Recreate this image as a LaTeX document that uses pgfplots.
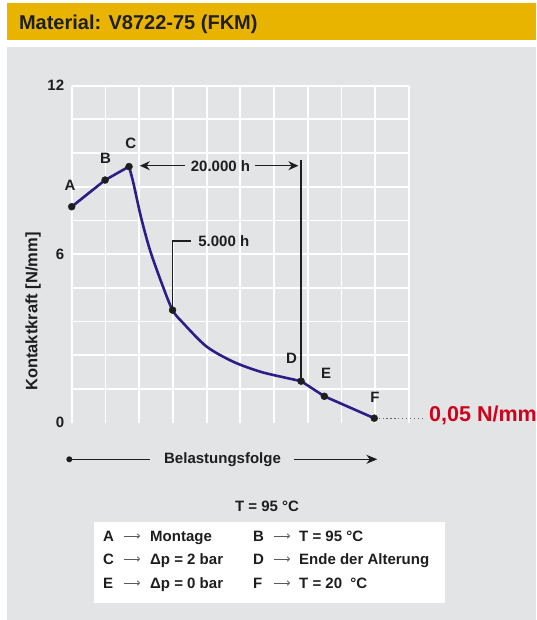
\documentclass[border=0pt]{standalone}
\usepackage{pgfplots}
\pgfplotsset{compat=1.18}
\usepackage{fontspec}
\setmainfont{Liberation Sans}
\usetikzlibrary{arrows.meta}

\definecolor{band}{RGB}{233,180,0}
\definecolor{panel}{RGB}{227,228,230}
\definecolor{curve}{RGB}{44,30,135}
\definecolor{ink}{RGB}{30,30,30}
\definecolor{warn}{RGB}{208,2,27}

\newcommand{\lbl}{\fontsize{15}{18}\selectfont\bfseries}

\begin{document}
\begin{tikzpicture}
\useasboundingbox (0,0) rectangle (536pt,620pt);
\begin{scope}
\clip (0,0) rectangle (536pt,620pt);
\fill[white] (0,0) rectangle (536pt,620pt);
\fill[band] (7pt,579.7pt) rectangle (536pt,616.6pt);
\fill[panel] (7pt,0pt) rectangle (536pt,573pt);
\node[anchor=base west, text=ink, inner sep=0pt, font=\fontsize{20}{24}\selectfont\bfseries]
  at (18.8pt,590pt) {Material: V8722-75 (FKM)};

\begin{axis}[
    at={(71.7pt,197.3pt)}, anchor=south west,
    scale only axis, width=337.3pt, height=337pt,
    xmin=0, xmax=10, ymin=0, ymax=12,
    axis line style={draw=none},
    major tick style={draw=none},
    xtick={0,1,...,10}, xticklabels={},
    ytick={1.2,2.4,3.6,4.8,6,7.2,8.4,9.6,10.8,12}, yticklabels={},
    extra y ticks={0,6,12},
    extra y tick style={grid=none},
    extra y tick labels={0,6,12},
    grid=major,
    major grid style={white, line width=1.8pt},
    yticklabel style={font=\lbl, text=ink, xshift=-4pt},
    /pgf/number format/assume math mode=true,
    ylabel={Kontaktkraft [N/mm]},
    every axis y label/.style={at={(axis description cs:0,0.33)}, xshift=-38.7pt,
      rotate=90, anchor=center, font=\fontsize{16.5}{19}\selectfont\bfseries, text=ink},
    clip=false,
  ]
  % annotations
  \draw[ink, line width=1.2pt] (axis cs:2.99,4.01) -- (axis cs:2.99,6.47) -- (axis cs:3.54,6.47);
  \node[anchor=west, font=\lbl, text=ink, inner sep=0pt] at (axis cs:3.75,6.47) {5.000 h};
  \draw[ink, line width=1.2pt] (axis cs:6.80,1.48) -- (axis cs:6.80,9.36);
  \draw[ink, line width=1.2pt, -{Stealth[length=10pt,width=9pt]}] (axis cs:3.36,9.15) -- (axis cs:2.02,9.15);
  \draw[ink, line width=1.2pt, -{Stealth[length=10pt,width=9pt]}] (axis cs:5.43,9.15) -- (axis cs:6.72,9.15);
  \node[font=\lbl, text=ink, inner sep=0pt] at (axis cs:4.41,9.15) {20.000 h};
  \draw[black!60, line width=1.3pt, dash pattern=on 1.3pt off 2.6pt] (axis cs:9.1,0.16) -- (axis cs:10.42,0.16);

  \addplot[curve, line width=2.6pt, sharp plot] coordinates {(0,7.69) (0.99,8.64) (1.70,9.12)};
  \addplot[curve, line width=2.6pt, smooth] coordinates {
    (1.70,9.12) (1.83,8.53) (2.05,7.34) (2.32,6.15) (2.67,4.96) (2.99,4.01)
    (3.31,3.54) (4.0,2.71) (4.79,2.17) (5.58,1.82) (6.27,1.62) (6.80,1.48)};
  \addplot[curve, line width=2.6pt, sharp plot] coordinates {(6.80,1.48) (7.49,0.94) (8.97,0.16)};
  \addplot[only marks, mark=*, mark size=3.5pt, mark options={fill=ink, draw=ink}] coordinates {
    (0,7.69) (0.99,8.64) (1.70,9.12) (2.99,4.01) (6.80,1.48) (7.49,0.94) (8.97,0.16)};

  \node[font=\lbl, text=ink] at (axis cs:-0.05,8.44) {A};
  \node[font=\lbl, text=ink] at (axis cs:1.0,9.42) {B};
  \node[font=\lbl, text=ink] at (axis cs:1.75,9.95) {C};
  \node[font=\lbl, text=ink] at (axis cs:6.52,2.28) {D};
  \node[font=\lbl, text=ink] at (axis cs:7.54,1.76) {E};
  \node[font=\lbl, text=ink] at (axis cs:8.99,0.89) {F};
\end{axis}

\node[anchor=base west, text=warn, inner sep=0pt, font=\fontsize{21.5}{25}\selectfont\bfseries]
  at (429pt,198.3pt) {0,05 N/mm};

% load sequence arrow
\fill[ink] (69.3pt,160.7pt) circle (3pt);
\draw[ink, line width=1.3pt] (69.3pt,160.7pt) -- (150pt,160.7pt);
\node[font=\lbl, text=ink] at (222.5pt,160.7pt) {Belastungsfolge};
\draw[ink, line width=1.3pt, -{Stealth[length=11pt,width=9pt]}] (294pt,160.7pt) -- (377.3pt,160.7pt);

\node[font=\lbl, text=ink] at (267pt,113.3pt) {T = 95 °C};

% legend box
\fill[white] (94pt,17pt) rectangle (445pt,98pt);
\foreach \y/\la/\ta/\lb/\tb in {84/A/Montage/B/T = 95 °C,
                               61/C/Δp = 2 bar/D/Ende der Alterung,
                               37/E/Δp = 0 bar/F/T = 20\ \ °C}{
  \node[anchor=base west, font=\lbl, text=ink, inner sep=0pt] at (103pt,\y pt-5.4pt) {\la};
  \draw[gray!70!black, line width=0.8pt, -{To[length=3pt,width=5pt]}] (124pt,\y pt) -- (140pt,\y pt);
  \node[anchor=base west, font=\lbl, text=ink, inner sep=0pt] at (150pt,\y pt-5.4pt) {\ta};
  \node[anchor=base west, font=\lbl, text=ink, inner sep=0pt] at (253pt,\y pt-5.4pt) {\lb};
  \draw[gray!70!black, line width=0.8pt, -{To[length=3pt,width=5pt]}] (274pt,\y pt) -- (290pt,\y pt);
  \node[anchor=base west, font=\lbl, text=ink, inner sep=0pt] at (299pt,\y pt-5.4pt) {\tb};
}
\end{scope}
\end{tikzpicture}
\end{document}
